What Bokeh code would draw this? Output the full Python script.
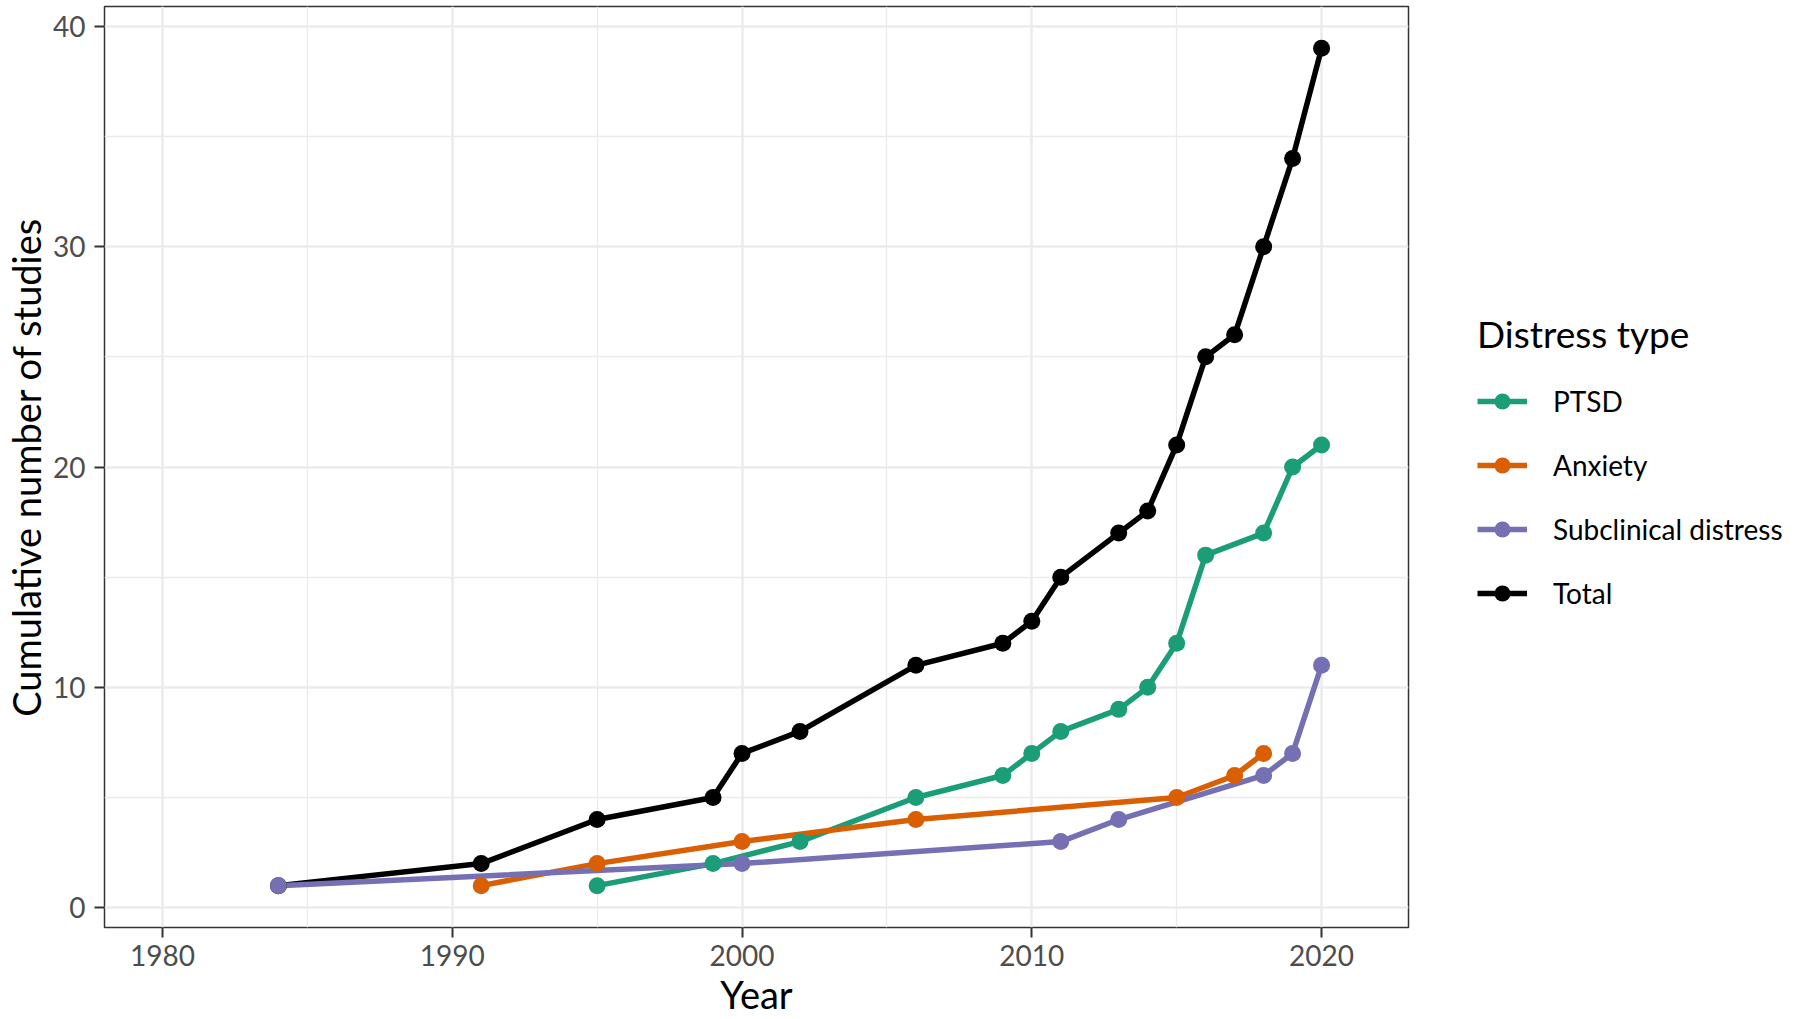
from bokeh.plotting import figure
from bokeh.models import Range1d, FixedTicker, Legend, LegendItem
from bokeh.layouts import row
from bokeh.embed import file_html
from bokeh.resources import INLINE

# ---- data ----
series_names = ["PTSD", "Anxiety", "Subclinical distress", "Total"]
years_ptsd = [1995, 1999, 2002, 2006, 2009, 2010, 2011, 2013, 2014, 2015, 2016, 2018, 2019, 2020]
ptsd = [1, 2, 3, 5, 6, 7, 8, 9, 10, 12, 16, 17, 20, 21]
years_anxiety = [1991, 1995, 2000, 2006, 2015, 2017, 2018]
anxiety = [1, 2, 3, 4, 5, 6, 7]
years_sub = [1984, 2000, 2011, 2013, 2018, 2019, 2020]
subclinical = [1, 2, 3, 4, 6, 7, 11]
years_total = [1984, 1991, 1995, 1999, 2000, 2002, 2006, 2009, 2010, 2011, 2013, 2014,
               2015, 2016, 2017, 2018, 2019, 2020]
total = [1, 2, 4, 5, 7, 8, 11, 12, 13, 15, 17, 18, 21, 25, 26, 30, 34, 39]
x_ticks = [1980, 1990, 2000, 2010, 2020]
x_minor = [1985, 1995, 2005, 2015]
y_ticks = [0, 10, 20, 30, 40]
y_minor = [5, 15, 25, 35]

colors = {"PTSD": "#1B9E77", "Anxiety": "#D95F02",
          "Subclinical distress": "#7570B3", "Total": "#000000"}
data = {"PTSD": (years_ptsd, ptsd), "Anxiety": (years_anxiety, anxiety),
        "Subclinical distress": (years_sub, subclinical), "Total": (years_total, total)}

FONT = "Lato"
H = 1019
W_MAIN = 1412
W_LEG = 1800 - W_MAIN
LW = 5.5
PS = 17

p = figure(width=W_MAIN, height=H, output_backend="svg", toolbar_location=None,
           x_range=Range1d(1978.0, 2023.0), y_range=Range1d(-0.9, 40.9),
           min_border_left=100, min_border_top=6, min_border_right=4,
           min_border_bottom=92)

p.background_fill_color = "white"
p.border_fill_color = "white"
p.outline_line_color = "#333333"
p.outline_line_width = 1.5

p.xaxis.ticker = FixedTicker(ticks=x_ticks, minor_ticks=x_minor)
p.yaxis.ticker = FixedTicker(ticks=y_ticks, minor_ticks=y_minor)
for g in (p.xgrid, p.ygrid):
    g.grid_line_color = "#EBEBEB"
    g.grid_line_width = 2.5
    g.minor_grid_line_color = "#EBEBEB"
    g.minor_grid_line_width = 1.3

for ax in (p.xaxis, p.yaxis):
    ax.axis_line_color = None
    ax.major_tick_line_color = "#333333"
    ax.major_tick_line_width = 2
    ax.major_tick_out = 10
    ax.major_tick_in = 0
    ax.minor_tick_line_color = None
    ax.major_label_text_font = FONT
    ax.major_label_text_font_size = "28px"
    ax.major_label_text_color = "#4D4D4D"
    ax.axis_label_text_font = FONT
    ax.axis_label_text_font_size = "38px"
    ax.axis_label_text_font_style = "normal"
    ax.axis_label_text_color = "#000000"

p.xaxis.major_label_standoff = 7
p.yaxis.major_label_standoff = 9
p.xaxis.axis_label = "Year"
p.yaxis.axis_label = "Cumulative number of studies"
p.xaxis.axis_label_standoff = 2
p.yaxis.axis_label_standoff = 1

draw_order = ["Total", "PTSD", "Anxiety", "Subclinical distress"]
for name in draw_order:
    xs, ys = data[name]
    p.line(xs, ys, line_color=colors[name], line_width=LW)
for name in draw_order:
    xs, ys = data[name]
    p.scatter(xs, ys, size=PS, fill_color=colors[name], line_color=colors[name], line_width=0)

# ---- legend panel (separate figure to the right; its series lie outside its range) ----
q = figure(width=W_LEG, height=H, output_backend="svg", toolbar_location=None,
           x_range=Range1d(0, 1), y_range=Range1d(0, 1),
           min_border_left=0, min_border_right=0, min_border_top=0, min_border_bottom=0)
q.axis.visible = False
q.grid.visible = False
q.outline_line_color = None
q.background_fill_color = "white"
q.border_fill_color = "white"

items = []
for name in series_names:
    xs, ys = data[name]
    lr = q.line(xs, ys, line_color=colors[name], line_width=LW)
    sr = q.scatter(xs, ys, size=PS, fill_color=colors[name], line_color=colors[name], line_width=0)
    items.append(LegendItem(label=name, renderers=[lr, sr]))

legend = Legend(items=items, location=(65, 314), title="Distress type",
                title_text_font=FONT, title_text_font_size="37px",
                title_text_font_style="normal", title_text_color="#000000",
                title_standoff=25,
                label_text_font=FONT, label_text_font_size="28px",
                label_text_color="#000000",
                glyph_width=50, glyph_height=40, label_height=40,
                label_standoff=26, spacing=24, padding=0, margin=0,
                border_line_alpha=0, background_fill_alpha=0)
q.add_layout(legend, "center")

layout = row(p, q)
open("out.html", "w").write(file_html(layout, INLINE))
